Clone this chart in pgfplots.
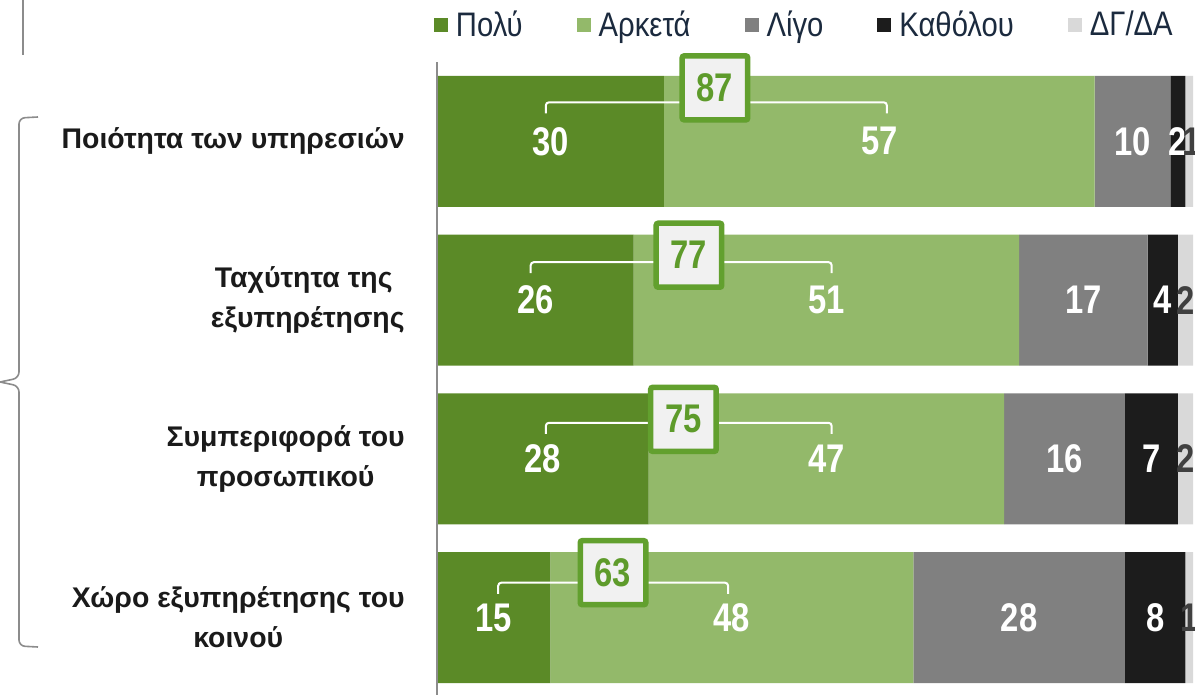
\documentclass[border=0pt]{standalone}
\usepackage{pgfplots}
\pgfplotsset{compat=1.18}
\usepackage{pgfplotstable}
\usepackage{fontspec}
\setmainfont{Liberation Sans}
\newfontfamily\numfont[FakeStretch=0.82]{Liberation Sans}
\newfontfamily\legfont[FakeStretch=0.86]{Liberation Sans}
\usetikzlibrary{shadows}

\definecolor{polu}{HTML}{5B8A27}
\definecolor{arketa}{HTML}{93B96A}
\definecolor{ligo}{HTML}{808080}
\definecolor{katholou}{HTML}{1C1C1C}
\definecolor{dgda}{HTML}{D9D9D9}
\definecolor{boxgreen}{HTML}{62A02E}
\definecolor{boxtext}{HTML}{5E9B2B}
\definecolor{boxfill}{HTML}{F1F1F1}
\definecolor{darklab}{HTML}{404040}
\definecolor{legtext}{HTML}{1B2A3E}
\definecolor{cattext}{HTML}{1A1A1A}
\definecolor{axgrey}{HTML}{8C8C8C}

\pgfplotstableread{
y polu arketa ligo katholou dgda
0 30 57 10 2 1
1 26 51 17 4 2
2 28 47 16 7 2
3 15 48 28 8 1
}\datatable

\pgfplotstableread{
x y lab
15 0 30
58.5 0 57
92 0 10
98 0 2
13 1 26
51.5 1 51
85.5 1 17
96 1 4
14 2 28
51.5 2 47
83 2 16
94.5 2 7
7.5 3 15
39 3 48
77 3 28
95 3 8
}\whitelabels

\pgfplotstableread{
x y lab
99.8 0 1
99 1 2
99 2 2
99.6 3 1
}\greylabels

\pgfplotsset{
  sq legend/.style={legend image code/.code={\fill[##1] (0pt,-3.5pt) rectangle (7pt,3.5pt);}},
}
\tikzset{
  callout/.style={draw=boxgreen, line width=2.75pt, fill=boxfill, minimum width=32.75pt,
    minimum height=32pt, inner sep=0pt, rounded corners=1pt, text=boxtext,
    font=\numfont\bfseries\fontsize{20pt}{20pt}\selectfont,
    drop shadow={shadow xshift=0.8pt, shadow yshift=-1.2pt, opacity=0.35}},
}

\begin{document}
\begin{tikzpicture}
\path[use as bounding box] (0,0) rectangle (597.5pt,-347.5pt);
\begin{axis}[
  at={(218.5pt,-31pt)}, anchor=north west,
  scale only axis, width=378pt, height=317.5pt,
  xbar stacked, bar width=65.5pt,
  xmin=0, xmax=100, ymin=-0.5, ymax=3.5, y dir=reverse,
  axis x line=none, axis y line*=left,
  y axis line style={draw=axgrey, line width=0.8pt},
  ytick={0,1,2,3},
  yticklabels={{Ποιότητα των υπηρεσιών},{Ταχύτητα της\kern4pt\\εξυπηρέτησης},{Συμπεριφορά του\\προσωπικού},{Χώρο εξυπηρέτησης του\\κοινού}},
  major tick length=0pt, ytick style={draw=none},
  yticklabel style={align=center, inner sep=0pt, xshift=-16pt, text=cattext,
    font=\bfseries\fontsize{14.2pt}{20pt}\selectfont},
  axis on top, clip=false,
  legend columns=-1,
  legend style={at={(-0.004,1.058)}, anchor=west, draw=none, fill=none,
    inner sep=0pt, outer sep=0pt,
    font=\legfont\fontsize{17pt}{20pt}\selectfont, text=legtext,
    nodes={inner xsep=4pt, inner ysep=0pt},
    /tikz/every even column/.append style={column sep=23pt}},
]
\addplot[fill=polu, draw=none, sq legend] table[x=polu, y=y] {\datatable};
\addplot[fill=arketa, draw=none, sq legend] table[x=arketa, y=y] {\datatable};
\addplot[fill=ligo, draw=none, sq legend] table[x=ligo, y=y] {\datatable};
\addplot[fill=katholou, draw=none, sq legend] table[x=katholou, y=y] {\datatable};
\addplot[fill=dgda, draw=none, sq legend] table[x=dgda, y=y] {\datatable};
\legend{Πολύ, Αρκετά, Λίγο, Καθόλου, ΔΓ/ΔΑ}
\end{axis}

\begin{axis}[
  at={(218.5pt,-31pt)}, anchor=north west,
  scale only axis, width=378pt, height=317.5pt,
  xmin=0, xmax=100, ymin=-0.5, ymax=3.5, y dir=reverse,
  hide axis, clip=false,
]
\addplot[draw=none, mark=none, nodes near coords, point meta=explicit symbolic,
  nodes near coords style={anchor=center, inner sep=0pt, text=white,
    font=\numfont\bfseries\fontsize{20pt}{20pt}\selectfont}]
  table[x=x, y=y, meta=lab] {\whitelabels};
\addplot[draw=none, mark=none, nodes near coords, point meta=explicit symbolic,
  nodes near coords style={anchor=center, inner sep=0pt, text=darklab,
    font=\numfont\bfseries\fontsize{20pt}{20pt}\selectfont}]
  table[x=x, y=y, meta=lab] {\greylabels};

\draw[white, line width=1pt, rounded corners=1.5pt] (axis cs:14.4,-0.176) -- (axis cs:14.4,-0.246) -- (axis cs:59.5,-0.246) -- (axis cs:59.5,-0.176);
\draw[white, line width=1pt, rounded corners=1.5pt] (axis cs:12.4,0.83) -- (axis cs:12.4,0.761) -- (axis cs:52.2,0.761) -- (axis cs:52.2,0.83);
\draw[white, line width=1pt, rounded corners=1.5pt] (axis cs:14.4,1.843) -- (axis cs:14.4,1.773) -- (axis cs:52.2,1.773) -- (axis cs:52.2,1.843);
\draw[white, line width=1pt, rounded corners=1.5pt] (axis cs:8.1,2.85) -- (axis cs:8.1,2.78) -- (axis cs:38.5,2.78) -- (axis cs:38.5,2.85);

\node[callout] at (axis cs:36.77,-0.337) {87};
\node[callout] at (axis cs:33.33,0.717) {77};
\node[callout] at (axis cs:32.6,1.751) {75};
\node[callout] at (axis cs:23.28,2.717) {63};
\end{axis}

\begin{scope}[x=0.5pt,y=-0.5pt]
\draw[axgrey, line width=0.8pt] (23,0) -- (23,55);
\draw[axgrey, line width=0.8pt, rounded corners=3pt] (38,117) -- (19,118) -- (19,378) -- (0,382);
\draw[axgrey, line width=0.8pt, rounded corners=3pt] (0,382) -- (19,386) -- (19,646) -- (38,647);
\end{scope}
\end{tikzpicture}
\end{document}
